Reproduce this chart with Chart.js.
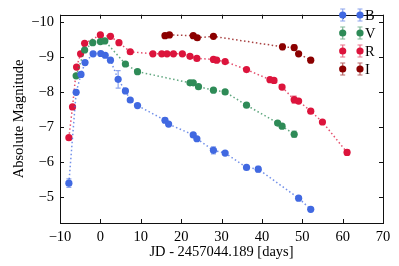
<!DOCTYPE html>
<html>
<head>
<meta charset="utf-8">
<script src="https://cdn.jsdelivr.net/npm/chart.js@4/dist/chart.umd.min.js"></script>
<style>body{margin:0;background:#fff}</style>
</head>
<body>
<canvas id="chart" width="399" height="266"></canvas>
<script>
// light curves, days since JD 2457044.189
var bands = ["B", "V", "R", "I"];

var bDays = [-7.8, -6.0, -4.8, -3.8, -1.8, 0.1, 1.2, 2.5, 4.4, 6.2, 7.4, 9.2, 16.0, 16.9, 23.0, 23.9, 28.0, 30.9, 36.2, 39.1, 49.1, 52.1];
var bMag  = [-5.40, -8.00, -8.51, -8.85, -9.10, -9.11, -9.06, -8.92, -8.37, -8.04, -7.78, -7.62, -7.20, -7.09, -6.78, -6.67, -6.34, -6.26, -5.85, -5.80, -4.97, -4.65];
var bErr  = [0.12, 0.05, 0.04, 0.04, 0.03, 0.03, 0.03, 0.03, 0.25, 0.04, 0.03, 0.03, 0.07, 0.04, 0.05, 0.04, 0.10, 0.04, 0.05, 0.08, 0.05, 0.04];

var vDays = [-6.0, -3.9, -1.9, 0.0, 1.1, 6.2, 9.2, 22.2, 23.0, 24.3, 28.0, 30.9, 36.2, 43.9, 45.0, 48.0];
var vMag  = [-8.47, -9.21, -9.42, -9.45, -9.47, -8.81, -8.59, -8.27, -8.27, -8.16, -8.06, -8.01, -7.63, -7.12, -7.03, -6.80];
var vErr  = [0.04, 0.04, 0.03, 0.03, 0.03, 0.04, 0.04, 0.04, 0.04, 0.04, 0.05, 0.04, 0.05, 0.05, 0.05, 0.09];

var rDays = [-7.8, -6.9, -5.9, -4.9, -3.9, 0.0, 2.5, 4.6, 7.4, 13.0, 15.2, 16.5, 18.1, 20.3, 22.2, 23.9, 28.0, 28.8, 30.9, 36.2, 42.0, 43.0, 45.0, 48.0, 49.1, 52.1, 55.0, 61.1];
var rMag  = [-6.70, -7.58, -8.72, -9.10, -9.40, -9.64, -9.60, -9.42, -9.16, -9.10, -9.10, -9.10, -9.10, -9.10, -9.03, -8.97, -8.94, -8.92, -8.88, -8.65, -8.36, -8.34, -8.15, -7.79, -7.75, -7.46, -7.15, -6.28];
var rErr  = [0.04, 0.04, 0.04, 0.03, 0.03, 0.03, 0.03, 0.03, 0.03, 0.03, 0.03, 0.03, 0.03, 0.03, 0.03, 0.03, 0.03, 0.03, 0.03, 0.04, 0.04, 0.04, 0.05, 0.10, 0.05, 0.05, 0.04, 0.07];

var iDays = [16.0, 17.1, 23.0, 24.0, 28.0, 45.1, 48.0, 49.1, 52.1];
var iMag  = [-9.62, -9.64, -9.62, -9.56, -9.60, -9.30, -9.28, -9.10, -8.92];
var iErr  = [0.03, 0.03, 0.03, 0.03, 0.04, 0.08, 0.08, 0.04, 0.04];

var xTicks = [-10, 0, 10, 20, 30, 40, 50, 60, 70];
var yTicks = [-10, -9, -8, -7, -6, -5];

var colors = ["#4169e1", "#2e8b57", "#dc143c", "#8b0000"];
var lineColors = ["rgba(65,105,225,0.75)", "rgba(46,139,87,0.75)", "rgba(220,20,60,0.75)", "rgba(139,0,0,0.75)"];
var errColors = ["rgba(65,105,225,0.6)", "rgba(46,139,87,0.6)", "rgba(220,20,60,0.6)", "rgba(139,0,0,0.6)"];

var allDays = [bDays, vDays, rDays, iDays];
var allMag = [bMag, vMag, rMag, iMag];
var allErr = [bErr, vErr, rErr, iErr];

var FONT = "Liberation Serif";
var minus = function(v){ return String(v).replace("-", "\u2212"); };

var datasets = bands.map(function(name, k){
    return {
        label: name,
        data: allDays[k].map(function(d, i){ return {x: d, y: allMag[k][i]}; }),
        errors: allErr[k],
        borderColor: lineColors[k],
        backgroundColor: colors[k],
        pointBackgroundColor: colors[k],
        pointBorderColor: colors[k],
        pointBorderWidth: 0,
        pointRadius: 3.6,
        borderWidth: 1.5,
        borderDash: [1.5, 2.5],
        showLine: true,
        tension: 0
    };
});

// error bars, drawn under the markers
var errorBars = {
    id: "errorBars",
    beforeDatasetsDraw: function(chart){
        var c = chart.ctx, ys = chart.scales.y;
        chart.data.datasets.forEach(function(ds, k){
            var meta = chart.getDatasetMeta(k);
            c.save();
            c.strokeStyle = errColors[k];
            c.lineWidth = 1.2;
            meta.data.forEach(function(pt, i){
                var v = ds.data[i].y, e = ds.errors[i];
                var y1 = ys.getPixelForValue(v - e), y2 = ys.getPixelForValue(v + e);
                c.beginPath();
                c.moveTo(pt.x, y1); c.lineTo(pt.x, y2);
                c.moveTo(pt.x - 2.5, y1); c.lineTo(pt.x + 2.5, y1);
                c.moveTo(pt.x - 2.5, y2); c.lineTo(pt.x + 2.5, y2);
                c.stroke();
            });
            c.restore();
        });
    }
};

// frame, inward ticks, and the two-marker legend
var frame = {
    id: "frame",
    afterDraw: function(chart){
        var c = chart.ctx, a = chart.chartArea;
        var xs = chart.scales.x, ys = chart.scales.y;
        c.save();
        c.strokeStyle = "#111";
        c.lineWidth = 1;
        c.strokeRect(Math.round(a.left) + 0.5, Math.round(a.top) + 0.5, Math.round(a.right - a.left), Math.round(a.bottom - a.top));
        c.beginPath();
        xTicks.forEach(function(t){
            var px = Math.round(xs.getPixelForValue(t)) + 0.5;
            c.moveTo(px, a.bottom); c.lineTo(px, a.bottom - 4);
            c.moveTo(px, a.top); c.lineTo(px, a.top + 4);
        });
        yTicks.forEach(function(t){
            var py = Math.round(ys.getPixelForValue(t)) + 0.5;
            c.moveTo(a.left, py); c.lineTo(a.left + 4, py);
            c.moveTo(a.right, py); c.lineTo(a.right - 4, py);
        });
        c.stroke();

        // legend
        c.font = "14.5px '" + FONT + "'";
        c.textBaseline = "middle";
        c.textAlign = "left";
        bands.forEach(function(name, k){
            var ly = 15 + k * 18;
            [342.7, 360].forEach(function(lx){
                c.strokeStyle = errColors[k];
                c.lineWidth = 1.2;
                c.beginPath();
                c.moveTo(lx, ly - 6); c.lineTo(lx, ly + 6);
                c.moveTo(lx - 2.5, ly - 6); c.lineTo(lx + 2.5, ly - 6);
                c.moveTo(lx - 2.5, ly + 6); c.lineTo(lx + 2.5, ly + 6);
                c.stroke();
                c.fillStyle = colors[k];
                c.beginPath();
                c.arc(lx, ly, 3.6, 0, Math.PI * 2);
                c.fill();
            });
            c.fillStyle = "#000";
            c.fillText(name, 365, ly + 1);
        });
        c.restore();
    }
};

var tickFont = {family: FONT, size: 14.5};

new Chart(document.getElementById("chart"), {
    type: "line",
    data: {datasets: datasets},
    plugins: [errorBars, frame],
    options: {
        responsive: false,
        animation: false,
        layout: {padding: {left: 0, top: 3, right: 16, bottom: 0}},
        plugins: {legend: {display: false}, tooltip: {enabled: false}},
        scales: {
            x: {
                type: "linear",
                min: -10,
                max: 70,
                afterBuildTicks: function(s){ s.ticks = xTicks.map(function(v){ return {value: v}; }); },
                afterFit: function(s){ s.height = 43; },
                grid: {display: false, drawTicks: false},
                border: {display: false},
                ticks: {font: tickFont, color: "#000", padding: 5, maxRotation: 0, callback: function(v){ return minus(v); }},
                title: {display: true, text: "JD - 2457044.189 [days]", font: tickFont, color: "#000", padding: {top: 0, bottom: 5}}
            },
            y: {
                type: "linear",
                min: -10.22,
                max: -4.26,
                reverse: true,
                afterBuildTicks: function(s){ s.ticks = yTicks.map(function(v){ return {value: v}; }); },
                afterFit: function(s){ s.width = 60; },
                grid: {display: false, drawTicks: false},
                border: {display: false},
                ticks: {font: tickFont, color: "#000", padding: 6, callback: function(v){ return minus(v); }},
                title: {display: true, text: "Absolute Magnitude", font: tickFont, color: "#000", padding: {top: 10, bottom: 0}}
            }
        }
    }
});
</script>
</body>
</html>
